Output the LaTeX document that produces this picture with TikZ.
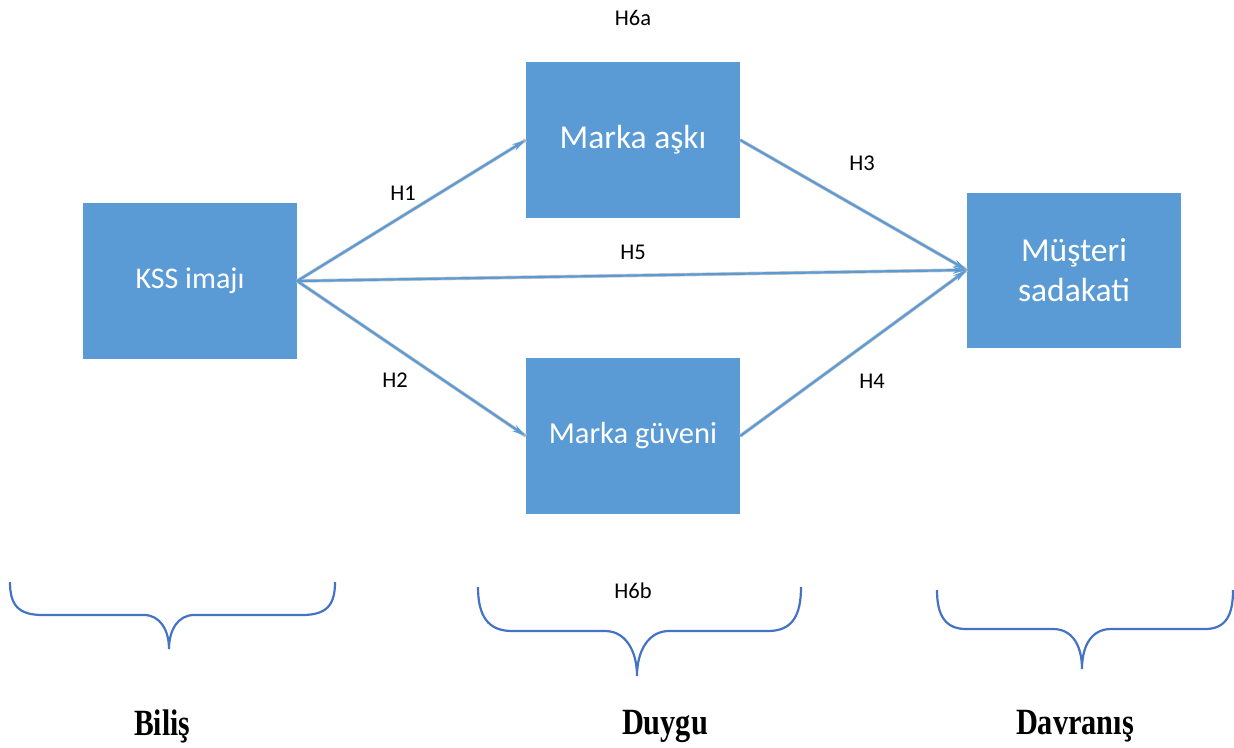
\documentclass[tikz,border=0pt]{standalone}
\usepackage{fontspec}
\setmainfont{Carlito}
\newfontfamily\tnr{Liberation Serif}
\usetikzlibrary{arrows.meta}
\definecolor{boxblue}{RGB}{91,155,213}
\definecolor{arrblue}{RGB}{91,155,213}
\definecolor{braceblue}{RGB}{68,114,196}
\tikzset{
  cbox/.style={fill=boxblue, draw=none, minimum width=214pt, minimum height=156pt, text=white, align=center, inner sep=0pt},
  hlab/.style={font=\fontsize{22.5}{26}\selectfont, inner sep=0pt},
  arr/.style={draw=arrblue, line width=2.2pt, -{Stealth[length=14pt,width=7pt]}},
  arrshadow/.style={draw=black!22, line width=3.6pt},
  brc/.style={draw=braceblue, line width=2.2pt},
  cat/.style={font=\tnr\bfseries\fontsize{37}{40}\selectfont, inner sep=0pt}
}
\begin{document}
\begin{tikzpicture}[x=1pt,y=-1pt]
\useasboundingbox (0,0) rectangle (1234,747);
\node[cbox, font=\fontsize{30}{36}\selectfont] (kss) at (190,281) {KSS imajı};
\node[cbox, font=\fontsize{33.5}{40}\selectfont] (ask) at (633,140) {Marka aşkı};
\node[cbox, font=\fontsize{30.5}{36}\selectfont] (guv) at (633,436) {Marka güveni};
\node[cbox, minimum height=155pt, font=\fontsize{33.5}{40}\selectfont] (mus) at (1074,270) {Müşteri\\sadakati};
% shadows
\draw[arrshadow] (kss.east) -- (ask.west);
\draw[arrshadow] (kss.east) -- (guv.west);
\draw[arrshadow] (kss.east) -- (mus.west);
\draw[arrshadow] (ask.east) -- (mus.west);
\draw[arrshadow] (guv.east) -- (mus.west);
% arrows
\draw[arr] (kss.east) -- (ask.west);
\draw[arr] (kss.east) -- (guv.west);
\draw[arr] (kss.east) -- (mus.west);
\draw[arr] (ask.east) -- (mus.west);
\draw[arr] (guv.east) -- (mus.west);
% labels
\node[hlab] (h6a) at (633,18) {H6a};
\node[hlab] (h1) at (403,193) {H1};
\node[hlab] (h3) at (862,163) {H3};
\node[hlab] (h5) at (633,252) {H5};
\node[hlab] (h2) at (395,380) {H2};
\node[hlab] (h4) at (872,381) {H4};
\node[hlab] (h6b) at (633,591) {H6b};
% braces
\draw[brc] (10,582) .. controls (10,605) and (18,615) .. (43,615) -- (144,615) .. controls (160,615) and (169,630) .. (169,649) .. controls (169,630) and (178,615) .. (194,615) -- (302,615) .. controls (327,615) and (335,605) .. (335,582);
\draw[brc] (478,587) .. controls (478,616) and (488,631) .. (512,631) -- (605,631) .. controls (625,631) and (637,650) .. (637,676) .. controls (637,650) and (649,631) .. (669,631) -- (768,631) .. controls (792,631) and (801,616) .. (801,587);
\draw[brc] (937,590) .. controls (937,615) and (945,629) .. (966,629) -- (1053,629) .. controls (1072,629) and (1082,645) .. (1082,669) .. controls (1082,645) and (1092,629) .. (1111,629) -- (1205,629) .. controls (1226,629) and (1233,615) .. (1233,590);
% categories
\node[cat] (bilis) at (162,726) {\scalebox{0.8}[1]{Biliş}};
\node[cat] (duygu) at (665,726) {\scalebox{0.82}[1]{Duygu}};
\node[cat] (davr) at (1075,726) {\scalebox{0.82}[1]{Davranış}};
\end{tikzpicture}
\end{document}
